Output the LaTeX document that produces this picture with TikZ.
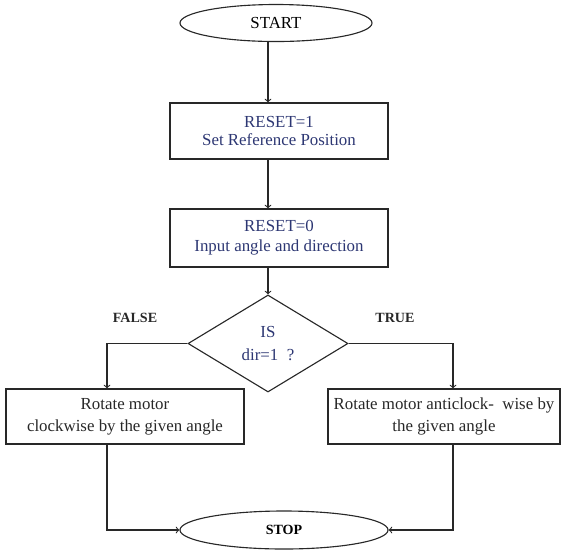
\documentclass[tikz,border=0pt]{standalone}
\usepackage{fontspec}
\setmainfont{Liberation Serif}
\usetikzlibrary{shapes.geometric}
\definecolor{boxtext}{RGB}{45,55,115}
\definecolor{linegray}{RGB}{40,40,40}
\tikzset{
  term/.style={ellipse,draw=linegray,thick,minimum width=4.8cm,minimum height=0.925cm,inner sep=0pt},
  procbox/.style={rectangle,draw=linegray,thick,inner sep=0pt,align=center},
  decide/.style={diamond,draw=linegray,thick,minimum width=4cm,minimum height=2.425cm,inner sep=0pt,aspect=1.65,align=center,font=\fontsize{12}{16}\selectfont},
  flow/.style={draw=linegray,thick,->},
  lbl/.style={font=\fontsize{10}{12}\selectfont\bfseries,text=linegray}
}
\begin{document}
\begin{tikzpicture}[x=0.025cm,y=-0.025cm]
\useasboundingbox (0,0) rectangle (561,549);
% start and set-up boxes
\node[term,font=\fontsize{12}{14}\selectfont] (start) at (276,23) {START};
\node[procbox,minimum width=5.45cm,minimum height=1.4cm,text=boxtext,font=\fontsize{12}{12.5}\selectfont] (reset1) at (279,131) {RESET=1\\ Set Reference Position};
\node[procbox,minimum width=5.45cm,minimum height=1.45cm,text=boxtext,font=\fontsize{12}{14}\selectfont] (reset0) at (279,238) {RESET=0\\ Input angle and direction};
% decision
\node[decide,text=boxtext] (isdir) at (268,343.5) {IS\\ dir=1\ \ ?};
\node[lbl] (false) at (135,318) {FALSE};
\node[lbl] (true) at (395,318) {TRUE};
\coordinate (fknee) at (107,343.5);
\coordinate (tknee) at (453,343.5);
% rotate boxes
\node[procbox,minimum width=5.95cm,minimum height=1.375cm,text=linegray,font=\fontsize{12}{15.5}\selectfont] (cw) at (125,416.5) {Rotate motor\\ clockwise by the given angle};
\node[procbox,minimum width=5.8cm,minimum height=1.375cm,text=linegray,font=\fontsize{12}{15.5}\selectfont] (acw) at (444,416.5) {Rotate motor anticlock-\ \ wise by\\ the given angle};
% stop
\node[term,minimum width=5.2cm,minimum height=0.95cm,font=\fontsize{10}{12}\selectfont\bfseries] (stop) at (284,530) {STOP};
% connectors
\draw[flow] (isdir.north |- start.south) -- (isdir.north |- reset1.north);
\draw[flow] (isdir.north |- reset1.south) -- (isdir.north |- reset0.north);
\draw[flow] (isdir.north |- reset0.south) -- (isdir.north);
\draw[flow] (isdir.west) -- (fknee) -- (fknee |- cw.north);
\draw[flow] (isdir.east) -- (tknee) -- (tknee |- acw.north);
\draw[flow] (fknee |- cw.south) |- (stop.west);
\draw[flow] (tknee |- acw.south) |- (stop.east);
\end{tikzpicture}
\end{document}
